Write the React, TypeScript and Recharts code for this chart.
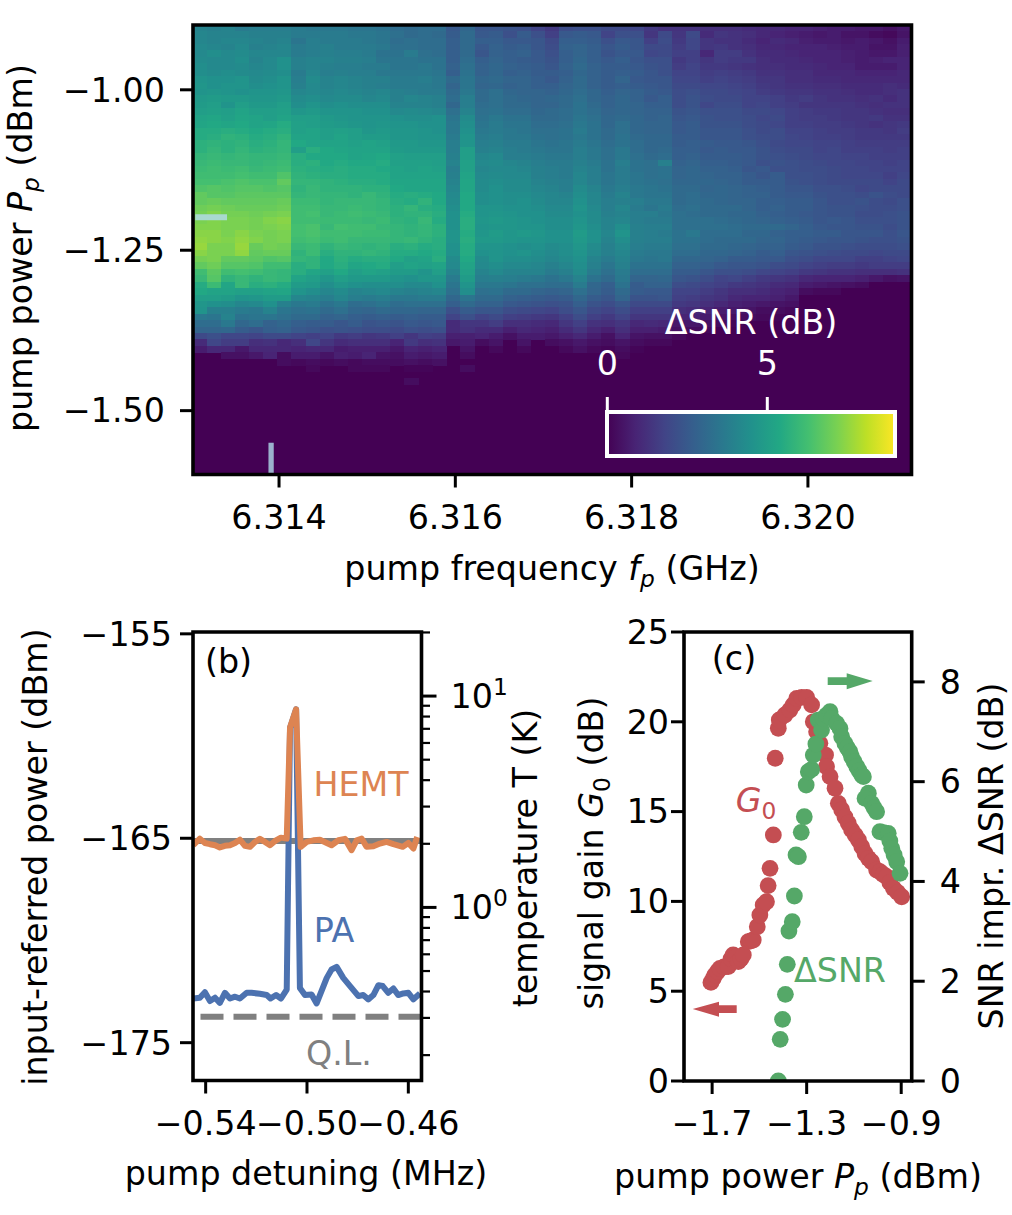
import React from "react";
import { ScatterChart, Scatter, LineChart, Line, XAxis, YAxis, ReferenceArea, ReferenceLine } from "recharts";

const FONT = "'DejaVu Sans', sans-serif";
const FS = 33.3, FS2 = 23.3;
const BLUE = "#4C72B0", ORANGE = "#DD8452", RED = "#C44E52", GREEN = "#55A868", GRAY = "#808080";
const PURPLE = "#440154";

// panel (a): ΔSNR in tenths of a dB, top row first; rows not listed are 0
const deltaSnrTenths: number[][] = [
[40,39,40,37,38,38,38,37,36,36,36,35,35,34,32,31,32,32,25,30,24,24,23,22,18,15,21,22,22,20,20,19,15,13,13,13,12,12,12,11,10,10,9,9,8,7,7,6,6,4,6],
[41,40,40,40,39,39,39,37,37,37,37,36,36,35,33,31,32,31,26,31,25,26,22,26,22,17,25,26,25,18,22,22,14,20,14,20,11,14,13,12,10,9,8,7,6,7,5,5,3,2,5],
[41,40,41,41,40,39,40,35,38,37,37,37,36,35,32,33,32,32,27,31,27,27,25,25,24,20,27,27,26,22,25,24,17,21,15,19,14,13,13,11,9,11,10,8,7,7,6,7,6,4,7],
[42,41,40,42,39,40,41,37,38,39,37,37,37,36,33,33,32,32,27,31,25,28,26,27,24,21,28,29,27,24,26,24,20,20,16,19,14,15,13,12,10,10,9,9,9,8,7,7,5,5,8],
[42,44,42,43,41,41,41,37,38,39,38,38,37,34,34,37,33,32,27,31,24,28,27,28,25,22,27,29,27,23,25,25,19,20,17,17,10,16,16,13,11,11,10,9,9,9,8,7,6,6,8],
[43,42,42,44,40,42,45,39,40,40,39,39,38,35,35,35,34,34,27,32,27,29,27,26,25,23,27,30,27,25,27,24,22,22,15,17,14,16,15,15,12,11,11,10,9,9,8,7,8,9,9],
[44,42,42,43,41,42,45,39,40,39,38,38,37,37,35,35,36,34,28,33,28,30,28,27,26,24,28,31,28,26,26,25,23,22,16,18,15,15,14,13,12,12,11,11,10,9,9,7,7,7,9],
[44,43,44,43,42,43,44,37,41,38,39,38,38,36,36,36,36,35,27,34,28,30,27,28,26,26,27,30,28,26,27,26,24,22,18,18,16,17,16,15,13,13,12,12,10,10,10,9,9,9,10],
[46,45,45,46,43,44,46,38,43,40,41,40,39,39,37,37,38,36,31,35,30,31,29,29,27,25,28,31,28,26,29,25,24,24,19,19,17,18,17,16,14,14,12,12,11,11,10,10,10,10,10],
[47,45,46,46,44,45,46,39,42,40,41,40,39,38,37,37,37,36,29,35,29,30,28,29,27,27,29,31,28,26,27,26,25,24,20,20,19,19,18,17,15,14,13,13,12,12,11,11,11,12,11],
[46,47,46,45,46,46,47,41,42,41,42,41,40,41,39,38,37,37,31,36,31,33,30,29,29,28,30,32,30,27,29,28,26,25,21,22,20,20,19,18,16,15,14,14,13,13,12,11,11,12,13],
[48,49,48,48,47,47,48,43,44,42,43,43,41,42,39,41,40,39,32,38,31,33,31,30,29,30,31,33,30,28,30,28,25,27,21,23,21,20,20,18,18,17,15,16,14,13,13,12,13,11,13],
[49,50,46,50,48,48,50,44,46,44,45,44,44,44,40,40,40,39,30,38,32,33,31,31,29,29,31,34,31,28,30,29,27,27,21,23,19,21,21,18,19,17,16,14,14,14,14,13,12,13,13],
[50,51,50,52,50,50,51,47,48,46,46,46,45,45,42,43,42,41,33,40,33,34,32,32,30,31,32,34,32,29,30,29,28,28,23,24,22,22,22,20,20,19,17,16,15,15,14,14,13,12,12],
[52,53,51,53,52,50,52,50,50,48,47,46,46,46,45,44,44,45,35,43,34,36,34,34,31,31,32,35,33,30,31,30,28,29,24,25,23,22,22,21,19,20,17,16,16,15,14,14,15,13,13],
[53,54,53,54,52,53,55,51,50,49,48,47,46,47,46,46,45,45,36,44,35,37,35,35,32,32,33,36,34,30,33,30,29,29,25,26,23,23,23,21,20,19,17,17,16,16,15,14,13,14,15],
[55,55,56,55,54,55,56,51,52,50,51,50,47,48,47,47,46,45,36,45,36,37,36,35,33,33,34,37,34,31,33,30,29,29,25,26,24,24,24,22,20,21,18,18,17,16,16,15,15,14,16],
[55,56,58,57,55,56,58,52,52,50,52,50,49,49,47,47,46,46,37,46,37,38,36,36,34,33,34,36,34,31,34,31,30,30,26,26,24,24,24,22,21,21,19,18,17,17,16,15,15,15,15],
[57,58,57,58,56,57,59,54,52,52,52,51,52,51,48,48,47,47,38,46,38,39,37,37,35,34,35,37,35,32,34,32,30,30,26,27,26,25,25,24,22,20,19,19,18,18,17,16,16,16,16],
[57,59,57,59,57,58,59,50,56,54,53,52,52,52,49,48,48,48,38,50,39,40,38,37,36,35,35,38,36,33,36,32,30,31,27,27,25,26,25,25,23,21,20,20,18,19,17,17,17,16,17],
[59,60,59,60,59,59,60,56,54,54,54,52,53,54,51,50,50,50,39,50,41,42,38,38,37,36,36,38,36,33,36,33,31,32,27,28,26,26,26,25,23,22,21,20,19,19,18,18,17,17,17],
[60,61,60,60,59,60,61,56,57,54,55,54,54,55,51,51,51,50,40,51,42,43,41,40,38,37,37,39,37,34,38,34,33,39,28,29,27,27,26,25,22,23,22,21,20,19,19,18,18,17,18],
[61,62,61,62,60,61,62,57,56,55,56,55,55,54,52,51,52,51,38,51,41,42,42,41,39,38,37,40,38,34,37,34,33,34,29,30,28,28,27,24,25,22,22,21,21,20,19,19,18,18,18],
[62,62,62,63,62,62,65,58,57,56,56,55,55,55,52,52,52,52,39,52,42,43,42,42,39,38,37,41,38,35,37,35,33,34,29,30,29,28,28,26,24,26,22,22,21,20,19,19,19,17,19],
[63,63,64,65,64,64,68,59,59,58,57,56,56,55,53,53,53,53,40,53,43,44,43,43,40,39,38,41,38,35,37,35,34,33,30,30,30,29,28,26,26,26,23,22,21,20,20,20,20,18,20],
[65,66,65,66,66,65,66,58,60,58,58,58,57,57,54,53,53,53,41,53,43,45,43,43,41,40,38,43,40,36,38,36,35,34,31,31,29,30,29,28,27,26,24,24,22,22,21,19,20,20,20],
[68,66,66,67,67,67,67,59,60,59,59,58,60,58,55,56,55,54,42,54,44,45,44,44,42,41,40,44,41,37,40,36,35,35,31,32,30,30,29,28,28,26,25,25,23,22,22,21,23,21,20],
[68,69,68,68,68,68,69,61,61,59,60,60,60,59,56,55,58,54,43,54,44,45,44,45,43,41,41,45,41,38,39,38,36,36,31,32,31,30,29,29,27,27,26,26,24,22,22,23,21,20,22],
[70,71,70,69,69,69,70,62,62,60,60,61,60,59,57,59,56,55,44,54,46,46,45,45,44,42,42,46,42,38,41,37,35,37,32,33,31,31,31,29,27,28,26,26,24,23,23,22,21,21,22],
[71,73,71,71,70,71,72,62,63,60,61,62,61,60,57,58,58,56,45,55,46,47,46,45,45,43,43,45,43,39,40,38,38,36,33,32,31,31,30,30,28,27,26,25,24,23,23,21,21,22,23],
[72,73,72,72,71,73,74,62,62,61,61,61,60,61,58,57,60,55,45,56,47,48,47,46,45,44,44,46,43,40,41,38,37,37,33,33,33,32,31,30,29,28,27,26,24,25,24,22,22,22,23],
[73,73,72,72,71,72,73,63,64,60,63,62,62,60,59,58,59,57,45,56,46,47,47,46,46,44,44,47,44,40,44,39,38,38,33,33,33,33,32,31,31,31,29,27,25,24,24,23,23,21,23],
[74,74,72,74,72,71,72,63,64,62,62,62,61,61,59,58,59,57,46,55,47,49,47,48,47,45,45,49,45,41,46,39,38,37,34,36,32,32,32,30,30,28,27,27,26,26,24,24,24,22,24],
[75,74,73,75,73,71,72,62,63,61,62,60,60,60,59,60,58,56,46,56,48,48,47,46,46,45,45,48,45,40,44,39,38,38,34,34,32,31,31,31,29,29,27,26,25,24,24,23,22,22,23],
[76,72,72,76,69,71,70,60,61,58,60,59,58,59,56,57,55,56,45,55,46,46,45,44,45,43,44,47,43,39,42,38,37,37,33,33,31,31,30,29,28,28,26,25,23,23,22,21,21,21,22],
[74,72,72,75,68,69,69,58,61,56,58,58,59,58,55,55,54,55,45,55,45,46,45,46,44,42,44,46,42,39,41,37,36,36,32,32,30,30,29,28,26,27,24,23,22,21,20,20,19,20,20],
[71,72,68,68,67,65,66,59,58,54,57,55,56,56,54,51,52,56,43,54,43,46,44,44,43,41,43,45,40,37,40,36,35,36,30,30,29,28,26,26,25,25,22,21,19,19,19,17,17,18,19],
[68,70,66,66,65,62,62,56,58,54,56,53,54,55,50,52,51,52,42,52,42,44,42,42,41,39,41,44,39,35,39,34,34,34,28,28,27,25,24,24,23,21,20,18,17,16,16,15,16,16,16],
[62,67,62,63,62,60,59,56,53,51,54,50,52,51,49,49,46,50,40,51,40,42,40,40,40,37,39,43,37,33,37,32,32,32,26,26,24,22,22,21,19,18,17,15,14,13,13,12,12,12,13],
[60,66,58,60,58,60,59,52,50,47,50,48,48,48,46,45,47,47,37,49,38,39,38,37,36,34,36,40,34,31,36,29,29,30,24,23,21,18,19,17,15,14,13,10,9,9,9,8,6,4,5],
[55,61,53,60,56,57,55,49,48,44,47,45,44,44,44,42,42,45,35,46,36,36,35,33,33,32,32,37,30,27,34,26,28,28,21,20,18,17,15,14,13,11,10,7,6,5,4,3,0,0,0],
[54,52,52,51,51,52,53,46,44,41,43,40,41,42,40,39,40,41,33,44,33,34,31,31,29,28,29,33,29,26,31,26,25,25,18,18,16,14,12,12,11,9,8,3,2,2,0,0,0,0,0],
[50,50,49,46,47,49,49,41,40,38,41,38,37,38,36,36,37,37,30,35,31,31,28,27,26,25,26,30,26,24,29,23,23,24,17,16,14,13,10,9,9,8,6,0,0,0,0,0,0,0,0],
[47,45,44,41,42,45,39,36,37,34,36,32,33,35,32,33,33,33,27,31,28,28,25,24,23,22,23,27,23,21,24,20,20,20,15,14,12,10,8,7,6,5,4,0,0,0,0,0,0,0,0],
[46,39,39,37,36,40,35,33,34,31,33,30,29,31,30,30,29,29,22,26,24,24,21,20,19,18,21,24,20,18,21,17,17,17,12,11,9,7,6,5,3,3,2,0,0,0,0,0,0,0,0],
[36,35,40,34,35,35,33,31,31,28,29,27,26,27,26,27,26,26,18,22,18,20,17,16,15,14,17,21,17,15,18,14,14,14,9,9,7,5,3,3,2,1,0,0,0,0,0,0,0,0,0],
[32,32,36,30,32,28,30,27,26,26,24,26,23,24,23,25,24,25,11,14,14,16,12,12,11,10,14,17,13,12,14,10,11,10,6,6,4,3,1,0,0,0,0,0,0,0,0,0,0,0,0],
[29,29,30,26,24,27,28,25,24,22,23,22,21,21,20,22,21,22,11,13,11,11,8,10,9,8,11,14,10,8,12,8,8,7,4,3,2,0,0,0,0,0,0,0,0,0,0,0,0,0,0],
[20,22,19,19,18,20,20,18,17,18,15,16,14,15,17,14,17,16,8,8,9,7,4,7,7,6,8,10,7,4,9,5,4,4,2,0,0,0,0,0,0,0,0,0,0,0,0,0,0,0,0],
[11,19,16,16,12,13,10,12,19,14,11,12,12,12,9,15,12,13,6,7,3,5,0,5,0,3,4,6,4,3,5,3,2,2,0,0,0,0,0,0,0,0,0,0,0,0,0,0,0,0,0],
[7,10,10,6,10,10,10,9,10,10,7,8,8,8,6,9,8,9,0,5,0,2,0,2,0,0,2,4,2,1,3,1,0,0,0,0,0,0,0,0,0,0,0,0,0,0,0,0,0,0,0],
[0,0,4,4,6,9,3,7,7,5,8,7,9,5,4,7,6,7,0,3,0,0,0,0,0,0,0,0,0,0,2,0,0,0,0,0,0,0,0,0,0,0,0,0,0,0,0,0,0,0,0],
[0,0,0,0,0,0,3,2,3,2,3,2,3,3,3,4,3,4,0,0,0,0,0,0,0,0,0,0,0,0,0,0,0,0,0,0,0,0,0,0,0,0,0,0,0,0,0,0,0,0,0],
[0,0,0,0,0,0,0,0,2,0,0,2,2,2,0,1,1,0,0,3,0,0,0,0,0,0,0,0,0,0,0,0,0,0,0,0,0,0,0,0,0,0,0,0,0,0,0,0,0,0,0],
[0,0,0,0,0,0,0,0,0,0,0,0,0,0,0,0,0,0,0,0,0,0,0,0,0,0,0,0,0,0,0,0,0,0,0,0,0,0,0,0,0,0,0,0,0,0,0,0,0,0,0],
[0,0,0,0,0,0,0,0,0,0,0,0,0,0,0,3,0,0,0,0,0,0,0,0,0,0,0,0,0,0,0,0,0,0,0,0,0,0,0,0,0,0,0,0,0,0,0,0,0,0,0],
];
const heatColumns = 51;
const heatRowCount = 70;
const freqDomain = [6.313024, 6.321175];
const powerDomain = [-1.5995, -0.899];
const freqTicks = [6.314, 6.316, 6.318, 6.32];
const powerTicks = [-1.5, -1.25, -1];
const colorMax = 9;
const viridis = ["#440154","#482475","#414487","#355f8d","#2a788e","#21918c","#22a884","#44bf70","#7ad151","#bddf26","#fde725"];

// panel (b)
const paDetuning = [-.5449,-.5423,-.5403,-.5383,-.5363,-.5344,-.5324,-.5304,-.5284,-.5265,-.5238,-.5219,-.5186,-.5159,-.5144,-.5122,-.5103,-.5080,-.5067,-.5043,-.5028,-.5008,-.4982,-.4962,-.4922,-.4903,-.4883,-.4857,-.4830,-.4797,-.4778,-.4758,-.4738,-.4718,-.4701,-.4679,-.4659,-.4640,-.4620,-.4600,-.4580,-.4554];
const paPower = [-172.84,-172.80,-172.53,-172.96,-172.80,-173.05,-172.56,-172.84,-172.75,-172.84,-172.56,-172.56,-172.61,-172.67,-172.84,-172.67,-172.84,-172.40,-159.6,-158.69,-172.32,-172.67,-172.64,-173.08,-171.83,-171.42,-171.29,-171.83,-172.23,-172.72,-172.67,-172.88,-172.67,-172.19,-172.23,-172.56,-172.35,-172.67,-172.59,-172.56,-172.88,-172.59];
const hemtDetuning = [-.5449,-.5423,-.5403,-.5383,-.5363,-.5344,-.5324,-.5304,-.5284,-.5265,-.5245,-.5225,-.5205,-.5186,-.5166,-.5146,-.5126,-.5103,-.5080,-.5067,-.5043,-.5025,-.5001,-.4975,-.4949,-.4922,-.4903,-.4876,-.4850,-.4824,-.4804,-.4784,-.4765,-.4738,-.4712,-.4686,-.4659,-.4622,-.4600,-.4580,-.4565];
const hemtPower = [-165.34,-165.02,-165.23,-165.29,-165.34,-165.45,-165.37,-165.34,-165.23,-165.07,-165.37,-165.42,-165.18,-165.03,-165.18,-165.34,-165.13,-164.97,-165.02,-159.58,-158.69,-165.42,-165.18,-165.10,-165.07,-165.23,-165.34,-165.10,-165.03,-165.58,-165.10,-165.02,-165.42,-165.39,-165.26,-165.18,-165.29,-165.42,-165.23,-165.50,-164.94];
const hemtLevel = -165.13;
const quantumLimitK = 0.304;
const detuningDomain = [-.5450, -.4548];
const detuningTicks = [-.54, -.5, -.46];
const leftPowerDomain = [-176.85, -154.91];
const leftPowerTicks = [-175, -165, -155];
const tempDomain = [0.1517, 20.1];
const tempTicks = [.2,.3,.4,.5,.6,.7,.8,.9,1,2,3,4,5,6,7,8,9,10,20];

// panel (c)
const gainPump = [-1.705,-1.696,-1.688,-1.677,-1.667,-1.650,-1.632,-1.620,-1.611,-1.600,-1.589,-1.578,-1.568,-1.547,-1.536,-1.526,-1.509,-1.498,-1.484,-1.470,-1.463,-1.455,-1.441,-1.433,-1.420,-1.416,-1.392,-1.371,-1.357,-1.342,-1.321,-1.300,-1.279,-1.272,-1.258,-1.244,-1.220,-1.216,-1.201,-1.180,-1.166,-1.152,-1.138,-1.124,-1.110,-1.095,-1.081,-1.067,-1.053,-1.039,-1.025,-1.004,-.990,-.976,-.962,-.948,-.933,-.915,-.898];
const gainDb = [5.49,5.7,5.90,6.1,6.27,6.35,6.37,6.8,7.02,6.9,6.65,6.8,7.02,7.76,7.8,7.85,8.59,9.24,9.8,9.98,10.88,11.84,13.70,17.97,19.64,20.1,20.38,20.66,20.94,21.3,21.36,21.36,20.94,20.0,19.45,18.8,18.15,17.5,16.95,16.3,15.46,15.1,14.7,14.35,13.98,13.7,13.42,13.05,12.67,12.4,12.21,11.75,11.65,11.5,11.38,11.05,10.73,10.5,10.26];
const snrPump = [-1.420,-1.412,-1.402,-1.390,-1.382,-1.375,-1.361,-1.352,-1.345,-1.335,-1.323,-1.310,-1.302,-1.293,-1.279,-1.272,-1.261,-1.251,-1.237,-1.230,-1.216,-1.201,-1.194,-1.173,-1.159,-1.152,-1.138,-1.128,-1.117,-1.110,-1.099,-1.088,-1.078,-1.067,-1.060,-1.039,-1.053,-1.025,-1.015,-1.004,-.990,-.975,-.955,-.948,-.940,-.930,-.919,-.905];
const snrDb = [0,.835,1.236,1.737,2.338,3.006,3.193,3.708,4.53,4.496,4.984,5.298,5.932,6.199,6.246,6.533,6.754,7.235,7.034,7.268,7.335,7.402,7.268,7.168,7.068,6.901,6.767,6.68,6.60,6.50,6.40,6.30,6.22,6.13,6.10,5.77,5.665,5.565,5.48,5.398,4.997,4.98,4.964,4.81,4.663,4.53,4.396,4.162];
const pumpDomain = [-1.819, -.8556];
const pumpTicks = [-1.7, -1.3, -.9];
const gainDomain = [0, 25];
const gainTicks = [0, 5, 10, 15, 20, 25];
const snrDomain = [0, 9];
const snrTicks = [0, 2, 4, 6, 8];

const minus = (s: string) => s.replace("-", "\u2212");
const mix = (a: string, b: string, t: number) => {
  const c = (h: string, i: number) => parseInt(h.slice(1 + i * 2, 3 + i * 2), 16);
  return `rgb(${[0, 1, 2].map((i) => Math.round(c(a, i) + (c(b, i) - c(a, i)) * t)).join(",")})`;
};
const colorOf = (v: number) => {
  const t = Math.max(0, Math.min(0.99999, v / colorMax)) * (viridis.length - 1);
  const i = Math.floor(t);
  return mix(viridis[i], viridis[i + 1], t - i);
};

const heatCells = deltaSnrTenths.flatMap((row, r) =>
  row.map((v, c) => ({
    f: freqDomain[0] + ((c + 0.5) * (freqDomain[1] - freqDomain[0])) / heatColumns,
    p: powerDomain[1] - ((r + 0.5) * (powerDomain[1] - powerDomain[0])) / heatRowCount,
    v: v / 10,
  }))
);
const zip = (xs: number[], ys: number[]) => xs.map((x, i) => ({ x, y: ys[i] }));
const paLine = zip(paDetuning, paPower);
const hemtLine = zip(hemtDetuning, hemtPower);
const gainPoints = zip(gainPump, gainDb);
const snrPoints = zip(snrPump, snrDb);

const TICK = { fontSize: FS, fill: "#000", fontFamily: FONT };
const TLINE = { stroke: "#000", strokeWidth: 3 };
const CELL_W = 718.5 / heatColumns;
const CELL_H = 449.5 / heatRowCount;

const HeatCell = (p: any) =>
  p.payload.v <= 0 ? <g /> : (
    <rect x={p.cx - CELL_W / 2 - 0.2} y={p.cy - CELL_H / 2 - 0.2} width={CELL_W + 0.4} height={CELL_H + 0.4} fill={colorOf(p.payload.v)} shapeRendering="crispEdges" />
  );
const Dot = (color: string) => (p: any) => <circle cx={p.cx} cy={p.cy} r={8.4} fill={color} />;
const LogTick = (p: any) => {
  const v = p.payload.value;
  const major = v === 1 || v === 10;
  return (
    <g>
      <line x1={p.x} x2={p.x + (major ? 15 : 8.5)} y1={p.y} y2={p.y} stroke="#000" strokeWidth={major ? 3 : 2.2} />
      {major && (
        <text x={p.x + 29} y={p.y + 12} fontSize={FS} fontFamily={FONT} fill="#000">
          10
          <tspan dy={-13.5} fontSize={FS2}>{v === 1 ? "0" : "1"}</tspan>
        </text>
      )}
    </g>
  );
};

const T = (p: any) => <text fontFamily={FONT} fontSize={FS} fill="#000" textAnchor="middle" {...p} />;
const Sub = ({ c }: { c: string }) => <tspan dy={7} fontSize={FS2} fontStyle="italic">{c}</tspan>;

const Overlay = () => (
  <svg width={1012} height={1215} style={{ position: "absolute", left: 0, top: 0, pointerEvents: "none" }}>
    <defs>
      <linearGradient id="cb">
        {viridis.map((c, i) => <stop key={c} offset={i / (viridis.length - 1)} stopColor={c} />)}
      </linearGradient>
    </defs>
    <rect x={607} y={412} width={288} height={44} fill="url(#cb)" stroke="#fff" strokeWidth={4} />
    <line x1={607.3} x2={607.3} y1={397} y2={411} stroke="#fff" strokeWidth={3} />
    <line x1={767.3} x2={767.3} y1={397} y2={411} stroke="#fff" strokeWidth={3} />
    <T x={607.3} y={375} fill="#fff">0</T>
    <T x={767.3} y={375} fill="#fff">5</T>
    <T x={751} y={334} fill="#fff">ΔSNR (dB)</T>
    <T transform="translate(32,248) rotate(-90)">pump power <tspan fontStyle="italic">P</tspan><Sub c="p" /><tspan dy={-7}> (dBm)</tspan></T>
    <T x={552} y={580}>pump frequency <tspan fontStyle="italic">f</tspan><Sub c="p" /><tspan dy={-7}> (GHz)</tspan></T>
    <T transform="translate(47,857) rotate(-90)">input-referred power (dBm)</T>
    <T transform="translate(537,858) rotate(-90)">temperature T (K)</T>
    <T x={306} y={1185}>pump detuning (MHz)</T>
    <T transform="translate(603,853) rotate(-90)">signal gain <tspan fontStyle="italic">G</tspan><tspan dy={7} fontSize={FS2}>0</tspan><tspan dy={-7}> (dB)</tspan></T>
    <T transform="translate(1003,856) rotate(-90)">SNR impr. ΔSNR (dB)</T>
    <T x={798} y={1188}>pump power <tspan fontStyle="italic">P</tspan><Sub c="p" /><tspan dy={-7}> (dBm)</tspan></T>
    <T x={228.5} y={673}>(b)</T>
    <T x={734} y={670}>(c)</T>
    <T x={361} y={796} fill={ORANGE}>HEMT</T>
    <T x={334} y={942} fill={BLUE}>PA</T>
    <T x={339} y={1065} fill={GRAY}>Q.L.</T>
    <T x={756} y={812} fill={RED}><tspan fontStyle="italic">G</tspan><tspan dy={7} fontSize={FS2}>0</tspan></T>
    <T x={840} y={982} fill={GREEN}>ΔSNR</T>
    <polygon points="827.7,677.3 846.7,677.3 846.7,673.3 872.7,681 846.7,689.3 846.7,685 827.7,685" fill={GREEN} />
    <polygon points="736.7,1005.3 719,1005.3 719,1001.7 692.7,1009 719,1016.7 719,1013 736.7,1013" fill={RED} />
  </svg>
);

export default function App() {
  return (
    <div style={{ position: "absolute", left: 0, top: 0, width: 1012, height: 1215, background: "#fff", overflow: "hidden" }}>
      <div style={{ position: "absolute", left: 0, top: 0 }}>
        <ScatterChart width={1012} height={600} margin={{ left: 0, top: 25, right: 100.5, bottom: 65.5 }}>
          <XAxis type="number" dataKey="f" domain={freqDomain} ticks={freqTicks} interval={0} allowDataOverflow height={60} tick={TICK} axisLine={false} tickLine={TLINE} tickSize={13} tickMargin={17.5} tickFormatter={(v: number) => v.toFixed(3)} />
          <YAxis type="number" dataKey="p" domain={powerDomain} ticks={powerTicks} interval={0} allowDataOverflow width={193} tick={TICK} axisLine={false} tickLine={TLINE} tickSize={13} tickMargin={15} tickFormatter={(v: number) => minus(v.toFixed(2))} />
          <ReferenceArea x1={freqDomain[0]} x2={freqDomain[1]} y1={powerDomain[0]} y2={powerDomain[1]} fill={PURPLE} fillOpacity={1} stroke="none" />
          <Scatter data={heatCells} shape={HeatCell} isAnimationActive={false} />
          <ReferenceArea zIndex={1500} x1={6.31305} x2={6.31341} y1={-1.2031} y2={-1.1938} fill="#a9d9cf" fillOpacity={1} stroke="none" />
          <ReferenceArea zIndex={1500} x1={6.31388} x2={6.31394} y1={-1.5975} y2={-1.55} fill="#9bb1cd" fillOpacity={1} stroke="none" />
          <ReferenceArea zIndex={1600} x1={freqDomain[0]} x2={freqDomain[1]} y1={powerDomain[0]} y2={powerDomain[1]} fill="none" stroke="#000" strokeWidth={3.6} />
        </ScatterChart>
      </div>
      <div style={{ position: "absolute", left: 0, top: 600 }}>
        <LineChart width={560} height={615} margin={{ left: 0, top: 32, right: 0, bottom: 74.5 }}>
          <XAxis type="number" dataKey="x" domain={detuningDomain} ticks={detuningTicks} interval={0} allowDataOverflow height={60} tick={TICK} axisLine={false} tickLine={TLINE} tickSize={13} tickMargin={17.5} tickFormatter={(v: number) => minus(v.toFixed(2))} />
          <YAxis yAxisId="l" type="number" domain={leftPowerDomain} ticks={leftPowerTicks} interval={0} allowDataOverflow width={193} tick={TICK} axisLine={false} tickLine={TLINE} tickSize={13} tickMargin={8} tickFormatter={(v: number) => minus(String(v))} />
          <YAxis yAxisId="t" orientation="right" scale="log" type="number" domain={tempDomain} ticks={tempTicks} interval={0} allowDataOverflow width={138.5} tick={LogTick} axisLine={false} tickLine={false} tickSize={0} tickMargin={0} />
          <ReferenceLine yAxisId="l" y={hemtLevel} stroke={GRAY} strokeWidth={6} />
          <ReferenceLine yAxisId="t" y={quantumLimitK} stroke={GRAY} strokeWidth={6} strokeDasharray="23 10" />
          <Line yAxisId="l" data={paLine} dataKey="y" stroke={BLUE} strokeWidth={6} strokeLinejoin="round" dot={false} isAnimationActive={false} />
          <Line yAxisId="l" data={hemtLine} dataKey="y" stroke={ORANGE} strokeWidth={6} strokeLinejoin="round" dot={false} isAnimationActive={false} />
          <ReferenceArea zIndex={1600} yAxisId="l" x1={detuningDomain[0]} x2={detuningDomain[1]} y1={leftPowerDomain[0]} y2={leftPowerDomain[1]} fill="none" stroke="#000" strokeWidth={3.6} />
        </LineChart>
      </div>
      <div style={{ position: "absolute", left: 560, top: 600 }}>
        <ScatterChart width={452} height={615} margin={{ left: 0, top: 32, right: 0, bottom: 74 }}>
          <XAxis type="number" dataKey="x" domain={pumpDomain} ticks={pumpTicks} interval={0} allowDataOverflow height={60} tick={TICK} axisLine={false} tickLine={TLINE} tickSize={13} tickMargin={17.5} tickFormatter={(v: number) => minus(v.toFixed(1))} />
          <YAxis yAxisId="g" type="number" dataKey="y" domain={gainDomain} ticks={gainTicks} interval={0} allowDataOverflow width={124} tick={TICK} axisLine={false} tickLine={TLINE} tickSize={13} tickMargin={2} />
          <YAxis yAxisId="s" orientation="right" type="number" dataKey="y" domain={snrDomain} ticks={snrTicks} interval={0} allowDataOverflow width={100.3} tick={TICK} axisLine={false} tickLine={TLINE} tickSize={13} tickMargin={15} />
          <Scatter yAxisId="g" data={gainPoints} shape={Dot(RED)} isAnimationActive={false} />
          <Scatter yAxisId="s" data={snrPoints} shape={Dot(GREEN)} isAnimationActive={false} />
          <ReferenceArea zIndex={1600} yAxisId="g" x1={pumpDomain[0]} x2={pumpDomain[1]} y1={gainDomain[0]} y2={gainDomain[1]} fill="none" stroke="#000" strokeWidth={3.6} />
        </ScatterChart>
      </div>
      <Overlay />
    </div>
  );
}
